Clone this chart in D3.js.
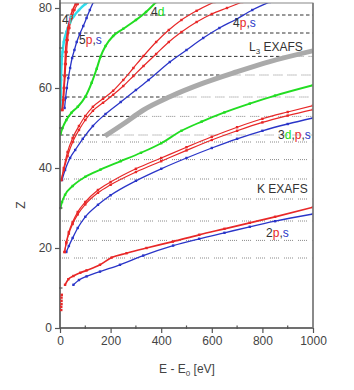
<!DOCTYPE html>
<html><head><meta charset="utf-8">
<script src="https://cdn.jsdelivr.net/npm/d3@7"></script>
<style>
body{margin:0;background:#fff}
svg{display:block;font-family:"Liberation Sans",Arial,sans-serif}
</style></head>
<body><svg id="c" width="354" height="390"></svg>
<script>
// ---- data ----
const xTicks = [0, 200, 400, 600, 800, 1000];
const yTicks = [0, 20, 40, 60, 80];
const xMinor = [100, 300, 500, 700, 900];
const yMinor = [10, 30, 50, 70];

const e1s = [5, 5, 6, 6, 6, 7];
const z1s = [4.5, 5.3, 6, 6.8, 7.6, 8.3];

const e2p = [20, 33, 53, 80, 105, 158, 204, 263, 342, 446, 550, 650, 750, 850, 1000];
const z2p = [10.8, 12.2, 13, 13.8, 14.4, 15.8, 17.6, 18.7, 20, 21.6, 23.3, 24.8, 26.3, 27.8, 30.2];
const e2s = [53, 75, 105, 158, 237, 329, 447, 550, 650, 750, 850, 1000];
const z2s = [10.8, 12, 12.9, 14.1, 15.8, 18.1, 20.6, 22.3, 23.8, 25.3, 26.7, 28.5];

const e3p = [18, 25, 35, 50, 70, 100, 150, 200, 300, 400, 500, 600, 700, 800, 900, 1000];
const z3pA = [19, 21.5, 24, 26.5, 29, 31.5, 34.5, 36.5, 39.8, 42.5, 45.2, 47.8, 50.2, 52.3, 54, 55.6];
const z3pB = [19, 21.2, 23.6, 26, 28.4, 30.9, 33.8, 35.8, 39, 41.7, 44.4, 47, 49.3, 51.4, 53.1, 54.6];
const e3s = [25, 35, 50, 70, 100, 150, 200, 300, 400, 500, 600, 700, 800, 900, 1000];
const z3s = [19, 20.5, 22.5, 25, 27.8, 30.8, 33.2, 36.8, 39.8, 42.5, 45, 47.3, 49.3, 51, 52.5];
const e3d = [2, 8, 20, 50, 100, 160, 240, 320, 400, 480, 560, 650, 750, 850, 1000];
const z3d = [30, 31.5, 33.3, 35.5, 37.8, 39.6, 41.7, 43.8, 46.2, 49.3, 51.6, 53.9, 56.1, 58.1, 60.7];

const eL3 = [178, 250, 330, 434, 566, 697, 829, 1000];
const zL3 = [48, 51, 54.5, 57.8, 61.2, 64, 66.6, 69.3];

const e4d = [2, 10, 25, 45, 70, 100, 125, 145, 160, 180, 210, 250, 300, 340, 380];
const z4d = [48.5, 50, 52, 53.8, 55.3, 57.8, 61.3, 64.8, 67.8, 70.5, 73, 74.8, 77, 79, 81.5];
const e4pA = [5, 15, 30, 50, 75, 100, 130, 170, 210, 250, 290, 330, 380, 430, 480, 540, 610];
const z4pA = [37, 40, 44, 47.5, 50.5, 53, 55.3, 57.3, 59.3, 62, 65, 68, 71.5, 74.5, 77, 79.3, 81.5];
const e4pB = [5, 15, 30, 50, 75, 100, 130, 170, 210, 250, 290, 330, 380, 430, 480, 540, 600, 660, 720];
const z4pB = [37, 39.5, 43, 46.5, 49.5, 52, 54.3, 56.3, 58.3, 60.5, 63, 65.5, 68.5, 71.5, 74, 76.5, 78.5, 80, 81.5];
const e4s = [8, 20, 40, 60, 90, 130, 180, 240, 300, 350, 434, 500, 566, 630, 697, 760, 829];
const z4s = [37, 39.5, 42.5, 44.5, 47.3, 50.5, 53.5, 56.5, 59.5, 62, 66.5, 69.5, 72.5, 75, 77.2, 79.5, 81.5];
const e4f = [2, 3, 4, 6, 10, 15, 25, 40, 55, 75, 100, 125];
const z4f = [54.5, 58, 62, 66, 69, 71.5, 74, 76.5, 78, 79.5, 81, 82];

const e5pA = [8, 12, 15, 18, 20, 22, 26, 32, 40, 50, 62, 78];
const e5pB = [10, 14, 17, 20, 23, 26, 30, 37, 46, 57, 70, 88];
const z5p = [54.5, 57, 60, 63, 66, 69, 72, 75, 77.5, 79.5, 81, 82.5];
const e5s = [18, 22, 27, 33, 40, 48, 57, 66, 78, 92, 105, 118, 132];
const z5s = [55, 57.5, 60, 62.5, 65, 67.5, 69.5, 71.5, 73.5, 75.5, 77.5, 79.5, 81.5];

// edge reference lines (Z)
const edgeLinesUpper = [78.25, 73.75, 67.9, 63.25, 57.75, 52.9, 48.25];
const edgeLinesLower = [46.5, 42.1, 37.25, 32.25, 26.75, 21.9, 17.5];

// ---- drawing ----
const RED = "#e82828", BLUE = "#2a35c8", GREEN = "#22dd22", CYAN = "#30dcec";
const svg = d3.select("#c");
const L = 60, R = 313, T = 3, B = 328;
const x = d3.scaleLinear().domain([0, 1000]).range([L, R]);
const y = d3.scaleLinear().domain([0, 81.25]).range([B, T]);

svg.append("clipPath").attr("id", "clip").append("rect")
  .attr("x", L).attr("y", T).attr("width", R - L).attr("height", B - T);
const g = svg.append("g").attr("clip-path", "url(#clip)");

const zToE = d3.scaleLinear().domain(zL3).range(eL3).clamp(true);
const DOT = "1,1,1,1,1,1,1,1,1,5";

edgeLinesUpper.forEach(z => {
  let eCut = z < zL3[0] ? eL3[0] : (z > zL3[zL3.length - 1] ? 1000 : zToE(z));
  g.append("line").attr("x1", x(0)).attr("x2", x(eCut)).attr("y1", y(z)).attr("y2", y(z))
    .attr("stroke", "#333").attr("stroke-width", 1).attr("stroke-dasharray", "3.5,2.5");
  if (eCut < 1000) {
    g.append("line").attr("x1", x(eCut) + 4).attr("x2", x(1000)).attr("y1", y(z)).attr("y2", y(z))
      .attr("stroke", "#8a8a8a").attr("stroke-width", 1).attr("stroke-dasharray", DOT);
  }
});
edgeLinesLower.forEach(z => {
  g.append("line").attr("x1", x(0)).attr("x2", x(1000)).attr("y1", y(z)).attr("y2", y(z))
    .attr("stroke", "#8a8a8a").attr("stroke-width", 1).attr("stroke-dasharray", DOT);
});

const line = d3.line().x(d => x(d[0])).y(d => y(d[1])).curve(d3.curveMonotoneX);
function series(es, zs, color, w, marks) {
  const pts = es.map((e, i) => [e, zs[i]]);
  g.append("path").attr("d", line(pts)).attr("fill", "none").attr("stroke", color)
    .attr("stroke-width", w).attr("stroke-linejoin", "round");
  if (marks) {
    g.selectAll(null).data(pts).enter().append("rect")
      .attr("x", d => x(d[0]) - 1.2).attr("y", d => y(d[1]) - 1.2)
      .attr("width", 2.4).attr("height", 2.4).attr("fill", color);
  }
}

series(eL3, zL3, "#aaaaaa", 5, false);

series(e2s, z2s, BLUE, 1.3, true);
series(e2p, z2p, RED, 1.7, true);

series(e3s, z3s, BLUE, 1.3, true);
series(e3p, z3pB, RED, 1.2, true);
series(e3p, z3pA, RED, 1.2, true);
series(e3d, z3d, GREEN, 1.8, true);

series(e4s, z4s, BLUE, 1.3, true);
series(e4pB, z4pB, RED, 1.2, true);
series(e4pA, z4pA, RED, 1.2, true);
series(e4d, z4d, GREEN, 2, true);

series(e4f, z4f, CYAN, 2.4, true);
series(e5s, z5s, BLUE, 1.3, true);
series(e5pB, z5p, RED, 1.2, true);
series(e5pA, z5p, RED, 1.7, true);

// frame
const AX = "#555";
svg.append("rect").attr("x", L).attr("y", T).attr("width", R - L).attr("height", B - T)
  .attr("fill", "none").attr("stroke", "#888").attr("stroke-width", 1);
svg.append("line").attr("x1", L).attr("x2", L).attr("y1", T - 3).attr("y2", B).attr("stroke", AX).attr("stroke-width", 1.5);
svg.append("line").attr("x1", L).attr("x2", R).attr("y1", B).attr("y2", B).attr("stroke", AX).attr("stroke-width", 1.5);
svg.append("line").attr("x1", R).attr("x2", R).attr("y1", T).attr("y2", B).attr("stroke", "#777").attr("stroke-width", 1.5);

// 1s cluster drawn above axis line
const g2 = svg.append("g");
g2.selectAll(null).data(e1s.map((e, i) => [e, z1s[i]])).enter().append("rect")
  .attr("x", d => x(d[0]) - 1.2).attr("y", d => y(d[1]) - 1.2)
  .attr("width", 2.4).attr("height", 2.4).attr("fill", RED);

// axes
const xAxis = d3.axisBottom(x).tickValues(xTicks).tickSize(5).tickPadding(3).tickFormat(d3.format("d"));
const gx = svg.append("g").attr("transform", `translate(0,${B})`).call(xAxis);
const yAxis = d3.axisLeft(y).tickValues(yTicks).tickSize(5).tickPadding(3).tickFormat(d3.format("d"));
const gy = svg.append("g").attr("transform", `translate(${L},0)`).call(yAxis);
[gx, gy].forEach(a => {
  a.select(".domain").remove();
  a.selectAll(".tick line").attr("stroke", AX).attr("stroke-width", 1.2);
  a.selectAll(".tick text").attr("fill", "#444").attr("font-size", 12)
    .attr("font-family", "Liberation Sans, Arial, sans-serif");
});
xMinor.forEach(v => svg.append("line").attr("x1", x(v)).attr("x2", x(v)).attr("y1", B - 2.5).attr("y2", B + 1)
  .attr("stroke", AX).attr("stroke-width", 1.2));
yMinor.forEach(v => svg.append("line").attr("x1", L - 1).attr("x2", L + 2.5).attr("y1", y(v)).attr("y2", y(v))
  .attr("stroke", AX).attr("stroke-width", 1.2));

// axis titles
const xt = svg.append("text").attr("x", 187).attr("y", 373).attr("text-anchor", "middle")
  .attr("font-size", 12).attr("fill", "#444");
xt.append("tspan").text("E - E");
xt.append("tspan").attr("font-size", 8).attr("dy", 3).text("0");
xt.append("tspan").attr("dy", -3).text(" [eV]");
svg.append("text").attr("transform", "translate(25,205) rotate(-90)").attr("text-anchor", "middle")
  .attr("font-size", 12).attr("fill", "#444").text("Z");

// labels
function label(xp, yp, parts, size) {
  const t = svg.append("text").attr("x", xp).attr("y", yp).attr("font-size", size || 12);
  parts.forEach(p => t.append("tspan").attr("fill", p[1]).text(p[0]));
}
const K = "#333";
label(151, 16, [["4", K], ["d", GREEN]]);
label(233, 27, [["4", K], ["p", RED], [",", K], ["s", BLUE]]);
label(79, 44, [["5", K], ["p", RED], [",", K], ["s", BLUE]]);
label(62, 24, [["4", K], ["f", CYAN]]);
label(278, 139, [["3", K], ["d", GREEN], [",", K], ["p", RED], [",", K], ["s", BLUE]]);
label(266, 237, [["2", K], ["p", RED], [",", K], ["s", BLUE]]);
label(257, 193, [["K EXAFS", K]]);
const lt = svg.append("text").attr("x", 249).attr("y", 51).attr("font-size", 12).attr("fill", K);
lt.append("tspan").text("L");
lt.append("tspan").attr("font-size", 8).attr("dy", 3).text("3");
lt.append("tspan").attr("dy", -3).text(" EXAFS");
</script></body></html>
